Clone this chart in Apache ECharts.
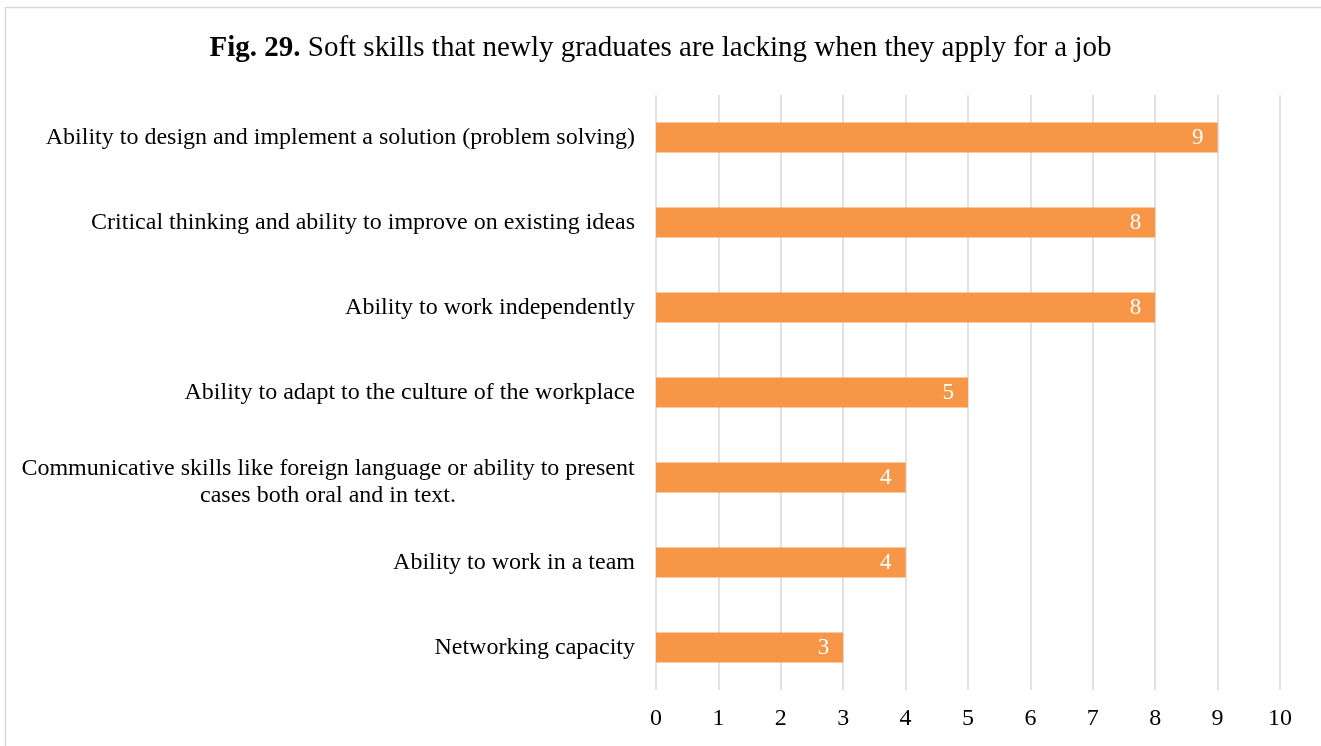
<!DOCTYPE html>
<html>
<head>
<meta charset="utf-8">
<script src="https://cdn.jsdelivr.net/npm/echarts@6/dist/echarts.min.js"></script>
<style>
  html, body { margin: 0; padding: 0; background: #fff; }
  #chart { width: 1321px; height: 746px; }
</style>
</head>
<body>
<div id="chart"></div>
<script>
// Skills listed from the top row to the bottom row
const skills = [
  'Ability to design and implement a solution (problem solving)',
  'Critical thinking and ability to improve on existing ideas',
  'Ability to work independently',
  'Ability to adapt to the culture of the workplace',
  'Communicative skills like foreign language or ability to present\ncases both oral and in text.',
  'Ability to work in a team',
  'Networking capacity'
];
const counts = [9, 8, 8, 5, 4, 4, 3];
const xTicks = [0, 1, 2, 3, 4, 5, 6, 7, 8, 9, 10];

const serif = '"Liberation Serif", "Times New Roman", serif';
const chart = echarts.init(document.getElementById('chart'));

chart.setOption({
  animation: false,
  backgroundColor: '#fff',
  graphic: [{
    type: 'rect',
    shape: { x: 5.5, y: 7.5, width: 1340, height: 780 },
    style: { fill: 'none', stroke: '#d9d9d9', lineWidth: 1.5 },
    silent: true
  }],
  title: {
    text: '{b|Fig. 29.} Soft skills that newly graduates are lacking when they apply for a job',
    left: 'center',
    top: 29,
    textStyle: {
      fontFamily: serif,
      fontSize: 29,
      fontWeight: 'normal',
      color: '#000',
      rich: {
        b: { fontFamily: serif, fontSize: 29, fontWeight: 'bold', color: '#000' }
      }
    }
  },
  grid: { left: 656, right: 41, top: 95, bottom: 56, containLabel: false },
  xAxis: {
    type: 'value',
    min: xTicks[0],
    max: xTicks[xTicks.length - 1],
    interval: 1,
    axisLine: { show: false },
    axisTick: { show: false },
    splitLine: { lineStyle: { color: '#d9d9d9', width: 1.5 } },
    axisLabel: {
      margin: 17,
      fontFamily: serif,
      fontSize: 24,
      color: '#000',
      formatter: v => xTicks.includes(v) ? String(v) : ''
    }
  },
  yAxis: {
    type: 'category',
    data: skills,
    inverse: true,
    axisLine: { show: false },
    axisTick: { show: false },
    axisLabel: {
      margin: 21,
      fontFamily: serif,
      fontSize: 24,
      color: '#000',
      lineHeight: 27,
      // wrapped label: both lines centred on each other
      formatter: v => v.includes('\n')
        ? v.split('\n').map(l => '{c|' + l + '}').join('\n')
        : v,
      rich: {
        c: { fontFamily: serif, fontSize: 24, color: '#000', width: 614, align: 'center', lineHeight: 27, padding: [10, 0, 0, 0] }
      }
    }
  },
  series: [{
    type: 'bar',
    data: counts,
    barWidth: 30,
    itemStyle: { color: '#F79646' },
    label: {
      show: true,
      position: 'insideRight',
      distance: 14,
      color: '#fff',
      fontFamily: serif,
      fontSize: 23
    }
  }]
});
</script>
</body>
</html>
